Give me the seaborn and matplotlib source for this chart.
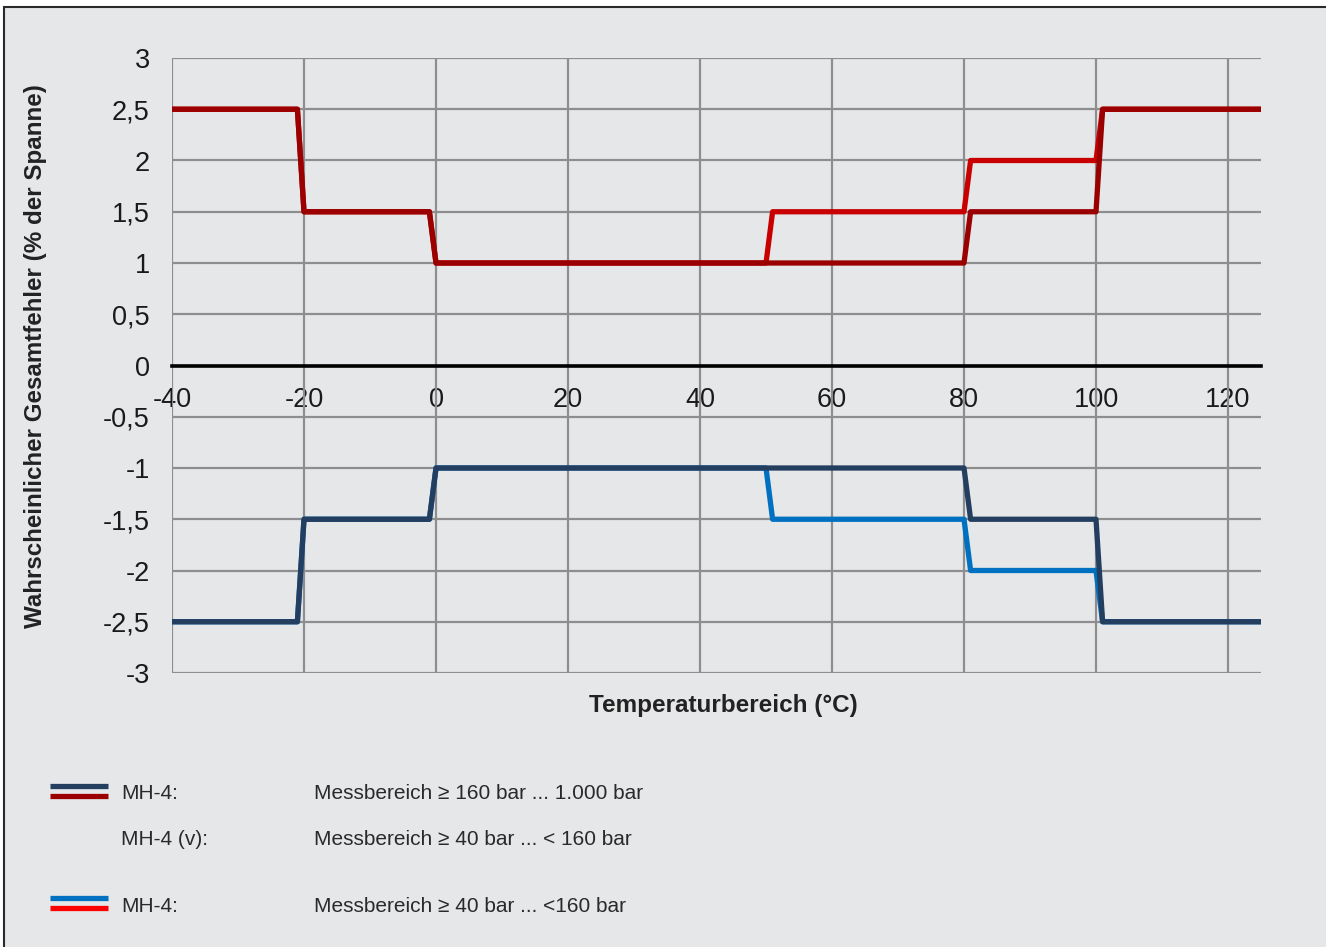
import numpy as np
import pandas as pd
import matplotlib
matplotlib.use("Agg")
import matplotlib.pyplot as plt
from matplotlib.patches import Rectangle
from matplotlib.lines import Line2D
import seaborn as sns

# Stufenverläufe (Temperatur in °C, Fehler in % der Spanne)
temp_mh4 = [-40, -21, -20, -1, 0, 80, 81, 100, 101, 125]
oben_mh4 = [2.5, 2.5, 1.5, 1.5, 1, 1, 1.5, 1.5, 2.5, 2.5]
unten_mh4 = [-2.5, -2.5, -1.5, -1.5, -1, -1, -1.5, -1.5, -2.5, -2.5]

temp_mh4_40 = [-40, -21, -20, -1, 0, 50, 51, 80, 81, 100, 101, 125]
oben_mh4_40 = [2.5, 2.5, 1.5, 1.5, 1, 1, 1.5, 1.5, 2, 2, 2.5, 2.5]
unten_mh4_40 = [-2.5, -2.5, -1.5, -1.5, -1, -1, -1.5, -1.5, -2, -2, -2.5, -2.5]

x_ticks = [-40, -20, 0, 20, 40, 60, 80, 100, 120]
y_ticks = [3, 2.5, 2, 1.5, 1, 0.5, 0, -0.5, -1, -1.5, -2, -2.5, -3]
y_labels = ["3", "2,5", "2", "1,5", "1", "0,5", "0", "-0,5", "-1", "-1,5", "-2", "-2,5", "-3"]

legende_name = ["MH-4:", "MH-4 (v):", "MH-4:"]
legende_text = ["Messbereich \u2265 160 bar ... 1.000 bar",
                "Messbereich \u2265 40 bar ... < 160 bar",
                "Messbereich \u2265 40 bar ... <160 bar"]

dunkelrot = "#9b0000"
rot = "#c80000"
hellrot = "#ff0000"
navy = "#243e60"
blau = "#0070c0"
bg = "#e6e7e9"
grid = "#8e8e8e"

sns.set_style("white")
plt.rcParams['font.family'] = ['Liberation Sans', 'DejaVu Sans']

fig = plt.figure(figsize=(13.26, 9.47), dpi=100)
fig.patch.set_facecolor("white")
fig.patches.append(Rectangle((4 / 1326, -0.01), 1.01, 1 - 7 / 947 + 0.01,
                             transform=fig.transFigure, facecolor=bg,
                             edgecolor="#2a2a2a", linewidth=1.5, zorder=-10))

ax = fig.add_axes([172 / 1326, 1 - 673 / 947, (1261 - 172) / 1326, (673 - 58) / 947])
ax.set_facecolor(bg)
ax.patch.set_alpha(0)

df1 = pd.DataFrame({"t": temp_mh4_40, "o": oben_mh4_40, "u": unten_mh4_40})
df2 = pd.DataFrame({"t": temp_mh4, "o": oben_mh4, "u": unten_mh4})
lw = 3.8
sns.lineplot(data=df1, x="t", y="o", color=rot, linewidth=lw, ax=ax, zorder=3, sort=False)
sns.lineplot(data=df1, x="t", y="u", color=blau, linewidth=lw, ax=ax, zorder=3, sort=False)
sns.lineplot(data=df2, x="t", y="o", color=dunkelrot, linewidth=lw, ax=ax, zorder=4, sort=False)
sns.lineplot(data=df2, x="t", y="u", color=navy, linewidth=lw, ax=ax, zorder=4, sort=False)

ax.set_xlim(-40, 125)
ax.set_ylim(-3, 3)
ax.set_xticks(x_ticks)
ax.set_xticklabels([str(v) for v in x_ticks])
ax.set_yticks(y_ticks)
ax.set_yticklabels(y_labels)

for y in y_ticks:
    ax.axhline(y, color=grid, linewidth=1.6, zorder=1)
for x in x_ticks:
    ax.axvline(x, color=grid, linewidth=1.6, zorder=1)

for s in ["top", "right", "left"]:
    ax.spines[s].set_visible(False)
ax.spines["bottom"].set_position(("data", 0))
ax.spines["bottom"].set_color("black")
ax.spines["bottom"].set_linewidth(2.6)
ax.spines["bottom"].set_zorder(5)

ax.tick_params(axis="x", direction="out", length=6, width=2.4, color="black",
               labelsize=19.5, pad=9.5, labelcolor="#1a1a1a")
ax.tick_params(axis="y", length=0, labelsize=19.5, pad=16, labelcolor="#1a1a1a")

ax.set_xlabel("")
ax.set_ylabel("Wahrscheinlicher Gesamtfehler (% der Spanne)", fontsize=17.4,
              fontweight="bold", color="#222222")
ax.yaxis.set_label_coords(-0.1148, 0.515)

# x-Achsentitel unterhalb des Diagramms
fig.text(723 / 1326, 1 - 705 / 947, "Temperaturbereich (\u00b0C)",
         fontsize=17.5, fontweight="bold", color="#222222", ha="center", va="center")

# Legende
def swatch(y_px, c_top, c_bot):
    y1 = 1 - y_px / 947
    y2 = 1 - (y_px + 10) / 947
    fig.add_artist(Line2D([50 / 1326, 108 / 1326], [y1, y1], color=c_top, linewidth=3.8,
                          solid_capstyle="butt"))
    fig.add_artist(Line2D([50 / 1326, 108 / 1326], [y2, y2], color=c_bot, linewidth=3.8,
                          solid_capstyle="butt"))

swatch(786, navy, dunkelrot)
swatch(898, blau, hellrot)

for ypx, name, txt in zip([793, 839, 906], legende_name, legende_text):
    fig.text(121 / 1326, 1 - ypx / 947, name, fontsize=15, color="#2a2a2a", va="center")
    fig.text(314 / 1326, 1 - ypx / 947, txt, fontsize=15, color="#2a2a2a", va="center")

fig.savefig("out.png", dpi=100, facecolor=fig.get_facecolor())
